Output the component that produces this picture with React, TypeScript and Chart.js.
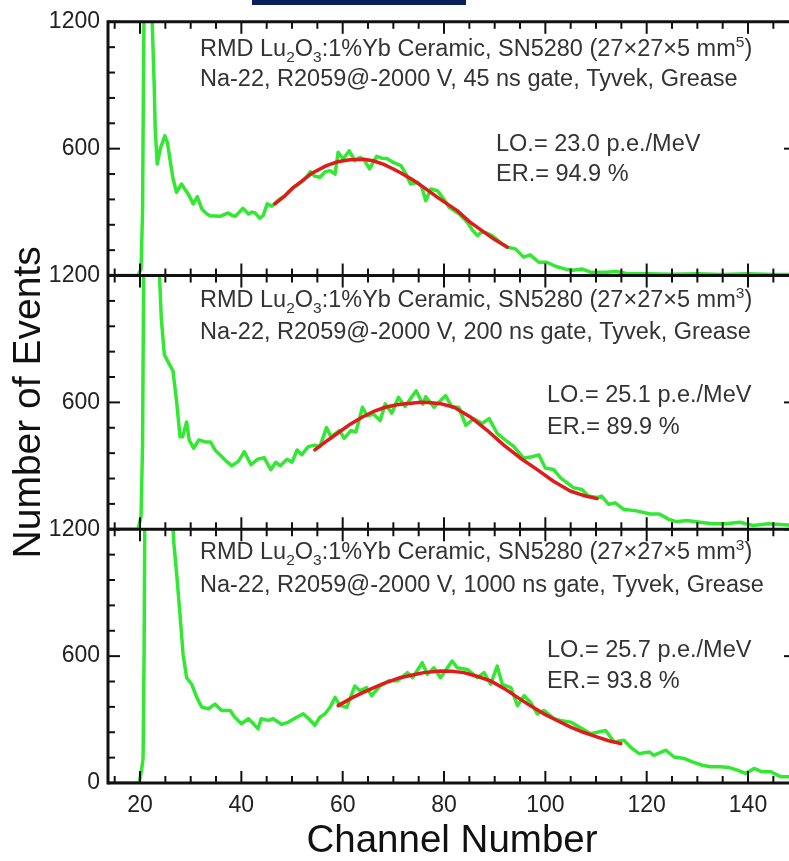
import React, { useEffect, useRef } from 'react';
import { Chart, registerables } from 'chart.js';

Chart.register(...registerables);

const FAMILY = '"Liberation Sans", Arial, Helvetica, sans-serif';

// ---------- data (channel, events) ----------
const spectrum45ns: [number, number][] = [
  [13.7, 0], [19.6, 0], [20.2, 30], [20.5, 300], [20.7, 1000], [20.9, 1500], [22.0, 1500], [22.4, 1200],
  [22.8, 900], [23.0, 693], [23.4, 527], [24.0, 600], [24.9, 661], [25.4, 630], [25.9, 551], [26.5, 460],
  [27.2, 394], [28.2, 433], [28.8, 410], [29.5, 386], [30.5, 339], [31.3, 373], [32.2, 315], [33.0, 295],
  [33.8, 283], [34.8, 282], [35.8, 280], [36.6, 288], [37.4, 296], [38.1, 285], [38.8, 280], [39.6, 300],
  [40.3, 318], [41.4, 291], [42.1, 300], [42.7, 296], [43.6, 271], [44.3, 283], [45.1, 339], [46.0, 328],
  [46.8, 345], [47.5, 360], [48.6, 377], [49.5, 400], [50.3, 417], [51.2, 430], [52.2, 449], [53.0, 470],
  [53.6, 491], [54.5, 470], [55.5, 465], [56.5, 490], [57.5, 496], [58.5, 480], [59.1, 583], [60.1, 551],
  [61.3, 590], [62.4, 543], [63.4, 559], [64.3, 545], [65.3, 504], [66.7, 564], [67.7, 555], [68.7, 554],
  [70.0, 535], [71.5, 520], [72.5, 480], [73.4, 433], [74.8, 441], [75.6, 420], [76.4, 354], [77.4, 409],
  [78.7, 401], [80.0, 360], [81.0, 323], [83.0, 291], [84.6, 252], [85.6, 215], [86.6, 189], [87.5, 208],
  [88.5, 200], [89.5, 189], [91.1, 157], [92.5, 134], [94.1, 126], [95.7, 87], [97.0, 98], [98.7, 63],
  [100.3, 63], [102.0, 44], [104.3, 28], [105.5, 25], [107.2, 31], [108.9, 16], [112.0, 16], [114.0, 19],
  [116.0, 10], [120.0, 8], [125.0, 6], [130.0, 8], [135.0, 5], [140.0, 8], [145.0, 5], [149.5, 5],
];
const fit45ns: [number, number][] = [
  [46.6, 339], [48.6, 377], [50.3, 417], [51.6, 441], [54.0, 485], [56.8, 520], [59.0, 538], [61.4, 548],
  [64.1, 550], [66.0, 543], [68.0, 527], [70.0, 504], [71.5, 485], [74.0, 450], [76.0, 417], [79.0, 365],
  [82.6, 307], [85.0, 255], [87.9, 205], [90.0, 170], [92.5, 134],
];

const spectrum200ns: [number, number][] = [
  [13.7, 0], [19.6, 0], [20.2, 60], [20.5, 400], [20.8, 1500], [23.5, 1500], [23.9, 1169], [24.2, 998],
  [24.8, 826], [25.8, 780], [26.5, 749], [27.2, 609], [27.9, 437], [28.4, 437], [29.2, 507], [29.7, 422],
  [30.6, 383], [31.6, 422], [32.9, 413], [33.9, 413], [34.8, 375], [36.1, 344], [37.1, 321], [38.1, 300],
  [39.4, 321], [40.6, 367], [41.9, 305], [43.2, 331], [44.5, 339], [45.8, 282], [46.8, 317], [47.7, 300],
  [49.0, 331], [50.0, 317], [51.0, 375], [51.9, 352], [53.2, 391], [54.5, 398], [55.5, 391], [56.8, 481],
  [57.7, 437], [59.4, 467], [60.3, 430], [61.6, 467], [62.6, 460], [63.9, 577], [64.8, 537], [66.1, 544],
  [67.4, 514], [68.4, 593], [69.7, 549], [71.0, 624], [72.3, 581], [74.5, 655], [75.8, 592], [76.4, 627],
  [78.0, 577], [80.3, 632], [81.6, 577], [82.9, 577], [84.3, 492], [85.9, 523], [87.5, 500], [88.9, 523],
  [90.5, 453], [92.1, 422], [93.8, 391], [95.7, 336], [97.4, 343], [98.7, 352], [100.0, 290], [101.6, 283],
  [103.0, 243], [104.3, 219], [105.6, 196], [107.2, 188], [108.5, 157], [110.2, 150], [111.1, 157], [112.5, 118],
  [113.8, 125], [115.4, 95], [118.0, 87], [120.7, 72], [122.5, 72], [124.3, 48], [125.8, 36], [127.9, 41],
  [130.5, 33], [133.0, 26], [135.6, 26], [138.4, 33], [141.0, 18], [144.0, 26], [149.5, 18],
];
const fit200ns: [number, number][] = [
  [54.5, 375], [57.0, 420], [59.4, 461], [61.5, 497], [63.9, 531], [66.0, 556], [68.4, 577], [71.0, 590],
  [73.5, 596], [75.4, 601], [77.0, 600], [79.3, 594], [82.0, 577], [85.2, 531], [88.5, 468], [91.8, 398],
  [95.1, 336], [98.4, 282], [101.6, 227], [104.9, 181], [107.5, 160], [110.2, 145],
];

const spectrum1000ns: [number, number][] = [
  [13.7, 0], [19.8, 0], [20.3, 60], [20.6, 116], [20.8, 600], [21.0, 1500], [26.2, 1500], [26.6, 1155],
  [27.2, 998], [27.9, 795], [28.5, 608], [29.2, 498], [30.2, 467], [31.2, 405], [32.2, 358], [33.5, 351],
  [34.8, 373], [36.1, 343], [37.8, 343], [38.7, 311], [40.0, 280], [41.4, 304], [42.4, 280], [43.3, 256],
  [43.9, 304], [45.3, 296], [46.3, 304], [48.0, 277], [49.3, 288], [50.9, 311], [52.2, 327], [53.3, 304],
  [54.5, 273], [55.5, 311], [56.5, 327], [57.5, 358], [58.5, 405], [59.5, 366], [60.8, 358], [62.4, 459],
  [63.4, 436], [64.7, 451], [65.7, 413], [67.4, 459], [69.1, 483], [70.8, 483], [72.8, 522], [73.8, 498],
  [75.7, 569], [76.7, 514], [78.0, 545], [79.3, 498], [81.6, 577], [82.6, 545], [84.6, 537], [86.6, 498],
  [87.9, 522], [89.2, 467], [90.5, 553], [91.5, 467], [93.2, 451], [94.5, 366], [95.8, 413], [97.1, 381],
  [98.4, 327], [99.7, 343], [101.7, 304], [103.0, 296], [105.0, 288], [107.3, 256], [108.9, 233], [111.9, 248],
  [113.6, 194], [115.5, 202], [116.8, 170], [118.5, 139], [120.5, 147], [121.4, 131], [123.8, 155], [125.4, 123],
  [127.4, 116], [129.0, 100], [131.0, 84], [132.6, 77], [134.5, 77], [136.3, 73], [137.9, 61], [139.5, 45],
  [141.2, 69], [142.8, 53], [144.5, 53], [146.4, 30], [149.5, 30],
];
const fit1000ns: [number, number][] = [
  [59.1, 366], [62.0, 405], [64.7, 436], [68.0, 470], [71.3, 498], [74.0, 512], [76.0, 522], [79.3, 530],
  [81.5, 528], [83.9, 522], [86.5, 505], [89.2, 483], [92.0, 445], [94.5, 405], [97.0, 366], [99.7, 327],
  [102.5, 293], [105.0, 264], [107.5, 240], [110.3, 217], [112.5, 200], [114.9, 186],
];

// ---------- labels ----------
const gateLabels = ['45 ns', '200 ns', '1000 ns'];
const volumeExponents = ['5', '3', '3'];
const lightOutputs = ['23.0', '25.1', '25.7'];
const energyResolutions = ['94.9', '89.9', '93.8'];
const yTickValues = [0, 600, 1200];

const X_MIN = 13.68;
const X_MAX = 149.47;
const PANEL_IDS = ['yTop', 'yMid', 'yBot'];
const CANVAS_W = 805; // wider than the view: right frame sits just outside, as in the reference
const VIEW_W = 789;
const VIEW_H = 861;

// text placement (pixel offsets: x from canvas left, y from panel top)
const textLayout = [
  { x1: 200, b1: 34, b2: 64, x2: 496, b3: 129, b4: 159 },
  { x1: 200, b1: 31.5, b2: 63, x2: 547, b3: 126.5, b4: 158.5 },
  { x1: 200, b1: 30, b2: 62.5, x2: 547, b3: 127.5, b4: 158.5 },
];

const toPoints = (arr: [number, number][]) => arr.map(([x, y]) => ({ x, y }));

type Seg = { t: string; k?: 'sub' | 'sup' };
function drawRich(ctx: CanvasRenderingContext2D, segs: Seg[], x: number, y: number) {
  let cx = x;
  for (const s of segs) {
    if (s.k) {
      ctx.font = `15.5px ${FAMILY}`;
      ctx.fillText(s.t, cx, y + (s.k === 'sub' ? 6 : -9));
    } else {
      ctx.font = `23.5px ${FAMILY}`;
      ctx.fillText(s.t, cx, y);
    }
    cx += ctx.measureText(s.t).width;
  }
}

const framePlugin = {
  id: 'frame',
  beforeDatasetDraw(chart: any, args: any) {
    const ys = args.meta.yScale;
    const a = chart.chartArea;
    const ctx = chart.ctx;
    ctx.save();
    ctx.beginPath();
    ctx.rect(a.left, ys.top, a.right - a.left, ys.bottom - ys.top);
    ctx.clip();
  },
  afterDatasetDraw(chart: any) {
    chart.ctx.restore();
  },
  afterDatasetsDraw(chart: any) {
    const ctx: CanvasRenderingContext2D = chart.ctx;
    const a = chart.chartArea;
    const xs = chart.scales.x;
    const line = (x1: number, y1: number, x2: number, y2: number) => {
      ctx.beginPath();
      ctx.moveTo(x1, y1);
      ctx.lineTo(x2, y2);
      ctx.stroke();
    };
    ctx.save();
    ctx.strokeStyle = '#111';
    ctx.lineWidth = 2;
    for (const id of PANEL_IDS) {
      const s = chart.scales[id];
      for (let v = 0; v <= 1200; v += 120) {
        const y = s.getPixelForValue(v);
        const len = v % 600 === 0 ? 12 : 7;
        line(a.left, y, a.left + len, y);
        line(a.right, y, a.right - len, y);
      }
      for (let v = 15; v <= 145; v += 5) {
        const x = xs.getPixelForValue(v);
        const len = v % 20 === 0 ? 12 : 7;
        line(x, s.top, x, s.top + len);
        line(x, s.bottom, x, s.bottom - len);
      }
    }
    ctx.lineWidth = 3;
    line(a.left, a.top - 1.5, a.left, a.bottom + 1.5);
    line(a.right, a.top - 1.5, a.right, a.bottom + 1.5);
    for (const id of PANEL_IDS) {
      const s = chart.scales[id];
      line(a.left, s.top, a.right, s.top);
    }
    line(a.left, a.bottom, a.right, a.bottom);

    // annotations
    ctx.fillStyle = '#333';
    ctx.textBaseline = 'alphabetic';
    ctx.textAlign = 'left';
    PANEL_IDS.forEach((id, i) => {
      const top = chart.scales[id].top;
      const L = textLayout[i];
      drawRich(ctx, [
        { t: 'RMD Lu' }, { t: '2', k: 'sub' }, { t: 'O' }, { t: '3', k: 'sub' },
        { t: ':1%Yb Ceramic, SN5280 (27\u00d727\u00d75 mm' }, { t: volumeExponents[i], k: 'sup' }, { t: ')' },
      ], L.x1, top + L.b1);
      drawRich(ctx, [{ t: `Na-22, R2059@-2000 V, ${gateLabels[i]} gate, Tyvek, Grease` }], L.x1, top + L.b2);
      drawRich(ctx, [{ t: `LO.= ${lightOutputs[i]} p.e./MeV` }], L.x2, top + L.b3);
      drawRich(ctx, [{ t: `ER.= ${energyResolutions[i]} %` }], L.x2, top + L.b4);
    });
    ctx.restore();
  },
};

const tickFont = { size: 23, family: FAMILY };

function yScale(hideZero: boolean, title: boolean) {
  return {
    type: 'linear' as const,
    position: 'left' as const,
    stack: 'panels',
    stackWeight: 1,
    min: 0,
    max: 1200,
    afterBuildTicks: (s: any) => {
      s.ticks = yTickValues.map((v) => ({ value: v }));
    },
    afterFit: (s: any) => {
      s.width = 108;
    },
    grid: { display: false, drawTicks: false },
    border: { display: false },
    ticks: {
      padding: 8,
      font: tickFont,
      color: '#222',
      callback: (v: any) => (hideZero && Number(v) === 0 ? '' : String(v)),
    },
    title: {
      display: title,
      text: 'Number of Events',
      color: '#111',
      font: { size: 39, family: FAMILY, lineHeight: 1 },
      padding: { top: 10, bottom: 0 },
    },
  };
}

export default function App() {
  const ref = useRef<HTMLCanvasElement | null>(null);
  useEffect(() => {
    if (!ref.current) return;
    const green = '#33e833';
    const red = '#e01b1b';
    const common = { pointRadius: 0, borderWidth: 3.5, tension: 0, fill: false, borderJoinStyle: 'round' as const, borderCapStyle: 'round' as const };
    const chart = new Chart(ref.current, {
      type: 'line',
      data: {
        datasets: [
          { ...common, data: toPoints(fit45ns), borderColor: red, yAxisID: 'yTop', order: 0 },
          { ...common, data: toPoints(fit200ns), borderColor: red, yAxisID: 'yMid', order: 0 },
          { ...common, data: toPoints(fit1000ns), borderColor: red, yAxisID: 'yBot', order: 0 },
          { ...common, data: toPoints(spectrum45ns), borderColor: green, yAxisID: 'yTop', order: 1 },
          { ...common, data: toPoints(spectrum200ns), borderColor: green, yAxisID: 'yMid', order: 1 },
          { ...common, data: toPoints(spectrum1000ns), borderColor: green, yAxisID: 'yBot', order: 1 },
        ],
      },
      options: {
        animation: false,
        responsive: false,
        maintainAspectRatio: false,
        devicePixelRatio: 1,
        parsing: false as any,
        normalized: true,
        layout: { padding: { top: 16, left: 0, right: 0, bottom: 0 } },
        plugins: { legend: { display: false }, tooltip: { enabled: false } },
        scales: {
          x: {
            type: 'linear',
            position: 'bottom',
            min: X_MIN,
            max: X_MAX,
            afterFit: (s: any) => {
              s.height = 78;
            },
            grid: { display: false, drawTicks: false },
            border: { display: false },
            ticks: {
              stepSize: 5,
              autoSkip: false,
              maxRotation: 0,
              minRotation: 0,
              padding: 9,
              font: tickFont,
              color: '#222',
              callback: (v: any) => {
                const n = Number(v);
                return Math.abs(n - Math.round(n)) < 1e-6 && Math.round(n) % 20 === 0 ? String(Math.round(n)) : '';
              },
            },
            title: {
              display: true,
              text: 'Channel Number',
              color: '#111',
              font: { size: 38.5, family: FAMILY, lineHeight: 1 },
              padding: { top: 0, bottom: 0 },
            },
          },
          yBot: yScale(false, false),
          yMid: yScale(true, true),
          yTop: yScale(true, false),
        } as any,
      },
      plugins: [framePlugin],
    });
    return () => chart.destroy();
  }, []);

  return (
    <div style={{ position: 'absolute', left: 0, top: 0, width: VIEW_W, height: VIEW_H, overflow: 'hidden', background: '#fff' }}>
      <canvas ref={ref} width={CANVAS_W} height={VIEW_H} style={{ display: 'block', width: CANVAS_W, height: VIEW_H }} />
      <div style={{ position: 'absolute', left: 252, top: 0, width: 214, height: 5, background: '#0b1f5c' }} />
    </div>
  );
}
